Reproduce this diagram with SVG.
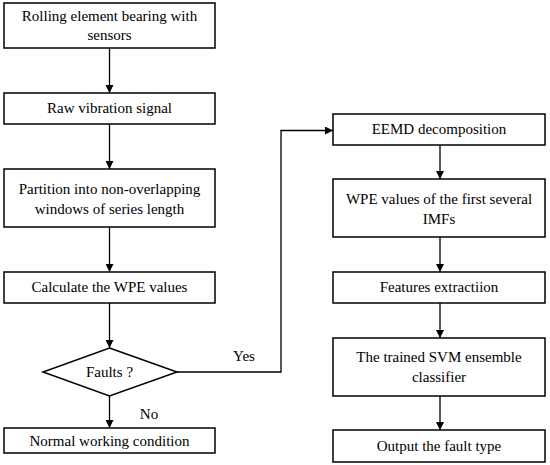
<svg xmlns="http://www.w3.org/2000/svg" width="550" height="465" viewBox="0 0 550 465" font-family="'Liberation Serif', 'DejaVu Serif', serif">
<style>
.box{fill:#fff;stroke:#000;stroke-width:1.5}
text{font-family:"Liberation Serif","DejaVu Serif",serif;font-size:15px;fill:#000;text-anchor:middle}
.c{fill:none;stroke:#000;stroke-width:1.3}
</style>
<defs>
<marker id="ah" markerWidth="8" markerHeight="8" refX="8" refY="4" orient="auto" markerUnits="userSpaceOnUse">
<path d="M0,0 L8,4 L0,8 Z" fill="#000"/>
</marker>
</defs>
<rect width="550" height="465" fill="#fff"/>
<g id="connectors">
<line class="c" x1="109.5" y1="48" x2="109.5" y2="93" marker-end="url(#ah)"/>
<line class="c" x1="109.5" y1="124" x2="109.5" y2="169" marker-end="url(#ah)"/>
<line class="c" x1="109.5" y1="227" x2="109.5" y2="272" marker-end="url(#ah)"/>
<line class="c" x1="109.5" y1="303" x2="109.5" y2="348" marker-end="url(#ah)"/>
<line class="c" x1="109.5" y1="396" x2="109.5" y2="428" marker-end="url(#ah)"/>
<polyline class="c" points="177,372 281,372 281,130.5 333,130.5" marker-end="url(#ah)"/>
<line class="c" x1="440" y1="145" x2="440" y2="179" marker-end="url(#ah)"/>
<line class="c" x1="440" y1="237" x2="440" y2="272" marker-end="url(#ah)"/>
<line class="c" x1="440" y1="303" x2="440" y2="338" marker-end="url(#ah)"/>
<line class="c" x1="440" y1="396" x2="440" y2="430" marker-end="url(#ah)"/>
<text x="244" y="361" font-family="Liberation Serif">Yes</text>
<text x="149" y="419" font-family="Liberation Serif">No</text>
</g>
<g id="n1" font-family="Liberation Serif"><rect class="box" x="4" y="3" width="211" height="45"/><text x="109.5" y="21">Rolling element bearing with</text><text x="109.5" y="40">sensors</text></g>
<g id="n2"><rect class="box" x="4" y="93" width="211" height="31"/><text x="109.5" y="113">Raw vibration signal</text></g>
<g id="n3"><rect class="box" x="4" y="169" width="211" height="58"/><text x="109.5" y="194">Partition into non-overlapping</text><text x="109.5" y="214">windows of series length</text></g>
<g id="n4"><rect class="box" x="4" y="272" width="211" height="31"/><text x="109.5" y="292">Calculate the WPE values</text></g>
<g id="n5"><polygon class="box" points="109.5,348 177,372 109.5,396 43,372"/><text x="109.5" y="377">Faults ?</text></g>
<g id="n6"><rect class="box" x="4" y="428" width="211" height="25"/><text x="109.5" y="446">Normal working condition</text></g>
<g id="n7"><rect class="box" x="333" y="114" width="212" height="31"/><text x="439" y="134">EEMD decomposition</text></g>
<g id="n8"><rect class="box" x="333" y="179" width="212" height="58"/><text x="439" y="204">WPE values of the first several</text><text x="439" y="224">IMFs</text></g>
<g id="n9"><rect class="box" x="333" y="272" width="212" height="31"/><text x="439" y="292">Features extractiion</text></g>
<g id="n10"><rect class="box" x="333" y="338" width="212" height="58"/><text x="439" y="362">The trained SVM ensemble</text><text x="439" y="382">classifier</text></g>
<g id="n11"><rect class="box" x="333" y="430" width="212" height="32"/><text x="439" y="451">Output the fault type</text></g>
</svg>
